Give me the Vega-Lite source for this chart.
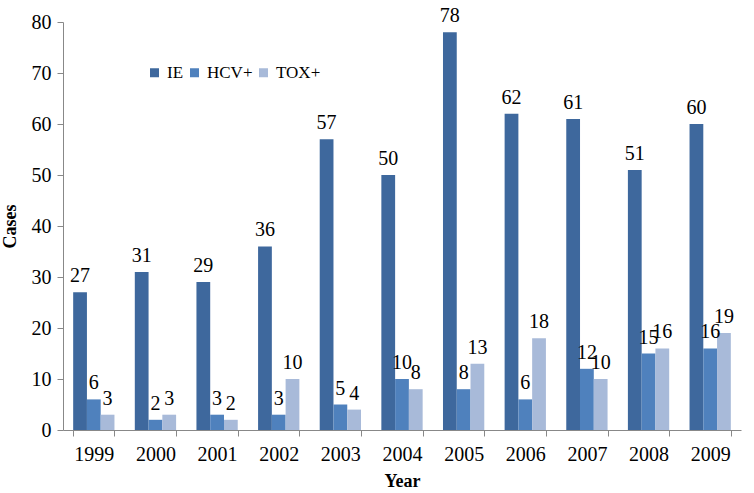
{
  "$schema": "https://vega.github.io/schema/vega-lite/v6.json",
  "width": 678,
  "height": 408,
  "autosize": {"type": "none"},
  "padding": {"left": 63, "top": 22, "right": 13, "bottom": 63},
  "background": "white",
  "config": {
    "font": "Liberation Serif",
    "view": {"stroke": null}
  },
  "data": {
    "values": [
      {"year": "1999", "series": "IE", "cases": 27}, {"year": "1999", "series": "HCV+", "cases": 6}, {"year": "1999", "series": "TOX+", "cases": 3},
      {"year": "2000", "series": "IE", "cases": 31}, {"year": "2000", "series": "HCV+", "cases": 2}, {"year": "2000", "series": "TOX+", "cases": 3},
      {"year": "2001", "series": "IE", "cases": 29}, {"year": "2001", "series": "HCV+", "cases": 3}, {"year": "2001", "series": "TOX+", "cases": 2},
      {"year": "2002", "series": "IE", "cases": 36}, {"year": "2002", "series": "HCV+", "cases": 3}, {"year": "2002", "series": "TOX+", "cases": 10},
      {"year": "2003", "series": "IE", "cases": 57}, {"year": "2003", "series": "HCV+", "cases": 5}, {"year": "2003", "series": "TOX+", "cases": 4},
      {"year": "2004", "series": "IE", "cases": 50}, {"year": "2004", "series": "HCV+", "cases": 10}, {"year": "2004", "series": "TOX+", "cases": 8},
      {"year": "2005", "series": "IE", "cases": 78}, {"year": "2005", "series": "HCV+", "cases": 8}, {"year": "2005", "series": "TOX+", "cases": 13},
      {"year": "2006", "series": "IE", "cases": 62}, {"year": "2006", "series": "HCV+", "cases": 6}, {"year": "2006", "series": "TOX+", "cases": 18},
      {"year": "2007", "series": "IE", "cases": 61}, {"year": "2007", "series": "HCV+", "cases": 12}, {"year": "2007", "series": "TOX+", "cases": 10},
      {"year": "2008", "series": "IE", "cases": 51}, {"year": "2008", "series": "HCV+", "cases": 15}, {"year": "2008", "series": "TOX+", "cases": 16},
      {"year": "2009", "series": "IE", "cases": 60}, {"year": "2009", "series": "HCV+", "cases": 16}, {"year": "2009", "series": "TOX+", "cases": 19}
    ]
  },
  "encoding": {
    "x": {
      "field": "year", "type": "nominal",
      "scale": {"paddingInner": 0.33, "paddingOuter": 0.165},
      "axis": {
        "title": "Year", "titleFontSize": 18, "titleFontWeight": "bold", "titleColor": "black", "titlePadding": 8,
        "labelAngle": 0, "labelFontSize": 20, "labelColor": "black", "labelPadding": 8,
        "domainColor": "#888888", "tickColor": "#888888", "tickBand": "extent", "tickSize": 6, "grid": false
      }
    },
    "xOffset": {"field": "series", "type": "nominal", "sort": ["IE", "HCV+", "TOX+"]},
    "y": {
      "field": "cases", "type": "quantitative",
      "scale": {"domain": [0, 80], "nice": false},
      "axis": {
        "title": "Cases", "titleFontSize": 18, "titleFontWeight": "bold", "titleColor": "black", "titlePadding": 12,
        "values": [0, 10, 20, 30, 40, 50, 60, 70, 80],
        "labelFontSize": 20, "labelColor": "black", "labelPadding": 6,
        "domainColor": "#888888", "tickColor": "#888888", "tickSize": 6, "grid": false
      }
    }
  },
  "layer": [
    {
      "mark": {"type": "bar"},
      "encoding": {
        "color": {
          "field": "series", "type": "nominal",
          "scale": {"domain": ["IE", "HCV+", "TOX+"], "range": ["#3E689D", "#4F81BD", "#A8BAD9"]},
          "legend": {
            "title": null, "orient": "none", "legendX": 83, "legendY": 42, "direction": "horizontal",
            "symbolType": "square", "symbolSize": 81, "symbolStrokeWidth": 0,
            "labelFontSize": 17, "labelColor": "black", "columnPadding": 2, "labelOffset": 4
          }
        }
      }
    },
    {
      "mark": {"type": "text", "baseline": "bottom", "dy": -6, "fontSize": 20, "color": "black"},
      "encoding": {
        "text": {"field": "cases", "type": "quantitative"}
      }
    }
  ]
}
